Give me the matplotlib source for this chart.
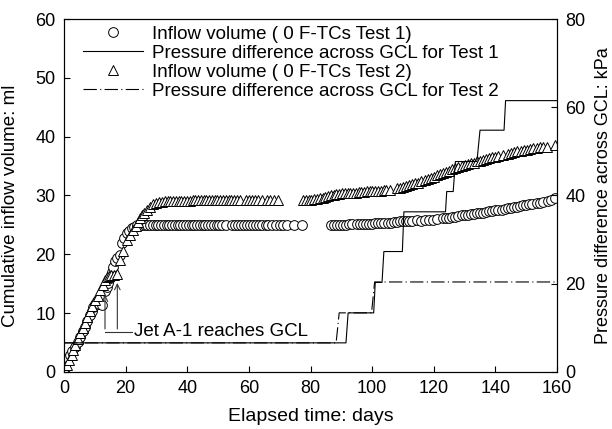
import matplotlib
matplotlib.use('Agg')
import matplotlib.pyplot as plt
import numpy as np

plt.rcParams['font.family'] = ['Liberation Sans', 'DejaVu Sans']

# Test 1 inflow volume (circles), ml
t1_day = [0, 0.4, 1.2, 1.9, 2.7, 3.6, 4.4, 5.2, 6.0, 6.8, 7.6, 8.4, 9.0, 9.5, 10.1, 10.6,
          11.2, 12.2, 13.3, 13.9, 14.4, 15.0, 15.5, 16.0, 16.5, 17.3, 18.2, 18.7, 19.5, 20.3,
          21.2, 22.0, 22.8, 23.6, 24.5, 25.3, 26.2,
          27.0, 27.9, 28.8, 29.7, 30.6, 31.5, 32.4, 33.3, 34.2, 35.1, 36.0, 36.9, 37.8, 38.7,
          39.6, 40.5, 41.4, 42.3, 43.2, 44.1, 45.0, 45.9, 46.8, 47.7, 48.6, 49.5, 50.4, 51.3, 52.5,
          54.4, 55.4, 56.4, 57.4, 58.4, 59.4, 60.4, 61.4, 62.4, 63.4, 64.4, 65.4, 66.3,
          67.6, 68.8, 70.0, 71.2, 72.3, 74.6, 77.3,
          86.5, 87.5, 88.5, 89.5, 90.5, 91.5, 92.5, 93.5,
          95.0, 96.0, 97.0, 98.0, 99.0, 100.0, 101.0, 102.0, 103.0, 104.0, 105.0, 106.0, 107.0,
          108.0, 109.0, 110.0, 111.0, 112.0, 113.0, 114.4,
          116.0, 117.2, 118.4, 119.6, 121.0,
          123.0, 124.0, 125.0, 126.0, 127.0, 128.0, 129.0, 130.0, 131.0, 132.0, 133.0, 134.0,
          135.0, 136.0, 137.0, 138.0, 139.0, 140.0, 141.0, 142.0, 143.0, 144.0, 145.0, 146.0,
          147.0, 148.0, 149.0, 150.0, 151.0, 152.0, 153.5, 154.5, 155.5, 157.0, 158.0, 159.4]
t1_vol = [0, 1.5, 2.3, 2.9, 3.6, 4.3, 5.1, 6.0, 6.9, 7.7, 8.7, 9.7, 10.4, 11.1, 11.5, 12.0,
          11.6, 11.4, 13.7, 14.4, 15.1, 16.0, 17.0, 17.9, 18.8, 19.4, 19.9, 21.9, 22.8, 23.6,
          24.0, 24.4, 24.7, 25.0, 24.9, 25.0, 25.0,
          25.0, 24.9, 25.0, 25.0, 25.0, 24.9, 25.0, 25.0, 25.0, 25.0, 25.0, 25.0, 25.0, 25.0,
          25.0, 25.0, 25.0, 25.0, 25.0, 25.0, 25.0, 25.0, 25.0, 25.0, 25.0, 25.0, 25.0, 25.0, 25.0,
          25.0, 25.0, 25.0, 25.0, 25.0, 25.0, 25.0, 25.0, 25.0, 25.0, 25.0, 25.0, 25.0,
          25.0, 25.0, 25.0, 25.0, 25.0, 25.0, 25.0,
          25.0, 25.0, 25.0, 25.0, 25.0, 25.0, 25.1, 25.1,
          25.1, 25.1, 25.1, 25.2, 25.2, 25.2, 25.3, 25.3, 25.3, 25.4, 25.4, 25.4, 25.5,
          25.5, 25.6, 25.6, 25.6, 25.7, 25.7, 25.9,
          25.7, 25.8, 25.8, 25.9, 26.0,
          26.1, 26.2, 26.2, 26.3, 26.4, 26.5, 26.6, 26.6, 26.7, 26.8, 26.9, 27.0,
          27.0, 27.1, 27.2, 27.3, 27.4, 27.5, 27.5, 27.6, 27.7, 27.8, 27.9, 28.0,
          28.1, 28.2, 28.3, 28.4, 28.5, 28.6, 28.7, 28.8, 28.9, 29.1, 29.2, 29.5]

# Test 2 inflow volume (triangles), ml
t2_day = [0, 0.3, 0.9, 1.7, 2.5, 3.0, 3.6, 4.4, 5.2, 6.0, 6.8, 7.6, 8.4, 9.2, 10.1, 10.9,
          11.7, 12.5, 13.3, 14.0, 14.7, 15.4, 16.2, 17.1, 18.2, 19.2, 20.3, 21.4, 22.5, 23.3,
          24.1, 24.7, 25.2, 26.0, 26.8, 27.9, 29.0, 30.0,
          30.9, 31.8, 32.7, 33.6, 34.5, 35.4, 36.3, 37.2, 38.1, 39.0, 39.9, 40.8, 41.7, 42.6,
          43.5, 44.4, 45.3, 46.2, 47.1, 48.0, 48.9, 49.8, 50.7, 51.6, 52.5, 53.4, 54.3, 55.2,
          56.1, 57.0,
          58.9, 59.9, 60.9, 62.0, 63.0, 64.2, 66.0, 67.0, 68.2, 69.5,
          77.6, 78.5, 79.4, 80.3, 81.2, 82.1, 83.0, 83.9, 84.8, 85.7, 86.6, 87.5, 88.4, 89.3,
          90.2, 91.1, 92.0, 92.9, 93.8, 94.7, 95.6, 96.5, 97.4, 98.3, 99.2, 100.1, 101.0,
          101.9, 102.8, 103.7, 104.6, 105.8,
          108.0, 109.0, 110.0, 111.0, 112.0, 113.0, 114.0, 115.0, 116.0, 117.0, 118.0, 119.0,
          120.0, 121.0, 122.0, 123.0, 124.0, 125.0, 126.0, 127.0, 128.0, 129.0, 130.0, 131.0,
          132.0, 133.0, 134.0, 135.0, 136.0, 137.0, 138.0, 139.0, 140.0, 141.0, 142.5,
          144.0, 145.0, 146.0, 147.0, 148.3, 149.3, 150.3, 151.3, 152.3, 153.4, 154.5,
          155.6, 156.7, 159.4]
t2_vol = [0, 0.3, 1.2, 2.1, 2.9, 3.8, 4.6, 5.6, 6.6, 7.5, 8.3, 9.3, 10.3, 11.2, 12.2, 13.0,
          13.9, 14.8, 15.6, 16.2, 16.4, 16.5, 16.5, 16.6, 19.0, 20.6, 22.4, 23.3, 24.1, 24.8,
          25.5, 26.2, 26.7, 27.1, 27.5, 28.1, 28.5, 28.8,
          28.9, 28.9, 29.0, 29.0, 29.0, 29.0, 29.1, 29.1, 29.1, 29.1, 29.1, 29.1, 29.2, 29.2,
          29.2, 29.2, 29.2, 29.2, 29.2, 29.2, 29.2, 29.3, 29.3, 29.3, 29.3, 29.3, 29.3, 29.3,
          29.3, 29.3,
          29.3, 29.3, 29.3, 29.3, 29.3, 29.3, 29.3, 29.3, 29.3, 29.3,
          29.2, 29.3, 29.3, 29.3, 29.4, 29.4, 29.5, 29.6, 29.7, 29.9, 30.0, 30.1, 30.2, 30.3,
          30.4, 30.4, 30.4, 30.5, 30.5, 30.5, 30.6, 30.6, 30.6, 30.7, 30.7, 30.7, 30.8,
          30.8, 30.8, 30.9, 30.9, 30.9,
          31.2, 31.3, 31.5, 31.6, 31.8, 31.9, 32.1, 32.2, 32.4, 32.6, 32.8, 33.0,
          33.2, 33.4, 33.6, 33.8, 34.0, 34.2, 34.5, 34.7, 34.9, 35.0, 35.2, 35.3,
          35.5, 35.6, 35.8, 35.9, 36.1, 36.2, 36.3, 36.5, 36.6, 36.7, 36.9,
          37.1, 37.2, 37.4, 37.5, 37.6, 37.7, 37.8, 37.9, 38.0, 38.0, 38.2,
          38.2, 38.3, 38.5]

# pressure difference across GCL, kPa
p1_day = [0, 91.5, 92.2, 100.5, 101.0, 103.2, 103.8, 109.8, 110.3, 123.8, 124.2, 126.3,
          127.0, 134.0, 135.0, 142.8, 143.3, 160]
p1_kpa = [6.6, 6.6, 13.4, 13.4, 20.3, 20.3, 27.3, 27.3, 36.3, 36.3, 40.9, 40.9,
          47.7, 47.7, 54.8, 54.8, 61.5, 61.5]
p2_day = [0, 88.3, 89.3, 99.8, 100.8, 160]
p2_kpa = [6.6, 6.6, 13.4, 13.4, 20.4, 20.4]

fig = plt.figure(figsize=(6.12, 4.29), dpi=100)
ax = fig.add_axes([0.1046, 0.1329, 0.8056, 0.8228])
ax2 = ax.twinx()

h1, = ax.plot(t1_day, t1_vol, 'o', ms=7, mfc='white', mec='black', mew=0.7)
h3, = ax.plot(t2_day, t2_vol, '^', ms=7, mfc='white', mec='black', mew=0.7)
h2, = ax2.plot(p1_day, p1_kpa, '-', color='black', lw=0.8)
h4, = ax2.plot(p2_day, p2_kpa, color='black', lw=0.8, linestyle=(0, (12, 3, 1, 3)))

ax.set_xlim(0, 160)
ax.set_ylim(0, 60)
ax2.set_ylim(0, 80)
ax.set_xticks(np.arange(0, 161, 20))
ax.set_yticks(np.arange(0, 61, 10))
ax2.set_yticks(np.arange(0, 81, 20))
ax.tick_params(direction='in', length=4, labelsize=13, top=False, pad=6)
ax2.tick_params(direction='in', length=4, labelsize=13, pad=6)
ax.set_xlabel('Elapsed time: days', fontsize=14)
ax.set_ylabel('Cumulative inflow volume: ml', fontsize=13.5)
ax2.set_ylabel('Pressure difference across GCL: kPa', fontsize=13)
ax.xaxis.set_label_coords(0.5, -0.102)
ax.yaxis.set_label_coords(-0.092, 0.47)
ax2.yaxis.set_label_coords(1.077, 0.5)

# Jet A-1 annotation
ax.plot([13.3, 22.0], [6.85, 6.85], color='#333333', lw=0.8)
ax.annotate('', xy=(13.3, 13.6), xytext=(13.3, 6.85),
            arrowprops=dict(arrowstyle='->', color='#333333', lw=0.8))
ax.annotate('', xy=(17.3, 15.6), xytext=(17.3, 6.85),
            arrowprops=dict(arrowstyle='->', color='#333333', lw=0.8))
ax.text(22.7, 6.85, 'Jet A-1 reaches GCL', fontsize=13.5, va='center', ha='left')

ax.legend([h1, h2, h3, h4],
          ['Inflow volume ( 0 F-TCs Test 1)', 'Pressure difference across GCL for Test 1',
           'Inflow volume ( 0 F-TCs Test 2)', 'Pressure difference across GCL for Test 2'],
          loc='upper left', bbox_to_anchor=(0.0385, 0.981), frameon=False, fontsize=13.5,
          handlelength=3.2, labelspacing=0.1, borderpad=0, borderaxespad=0,
          handletextpad=0.5)

fig.savefig('out.png', dpi=100)
